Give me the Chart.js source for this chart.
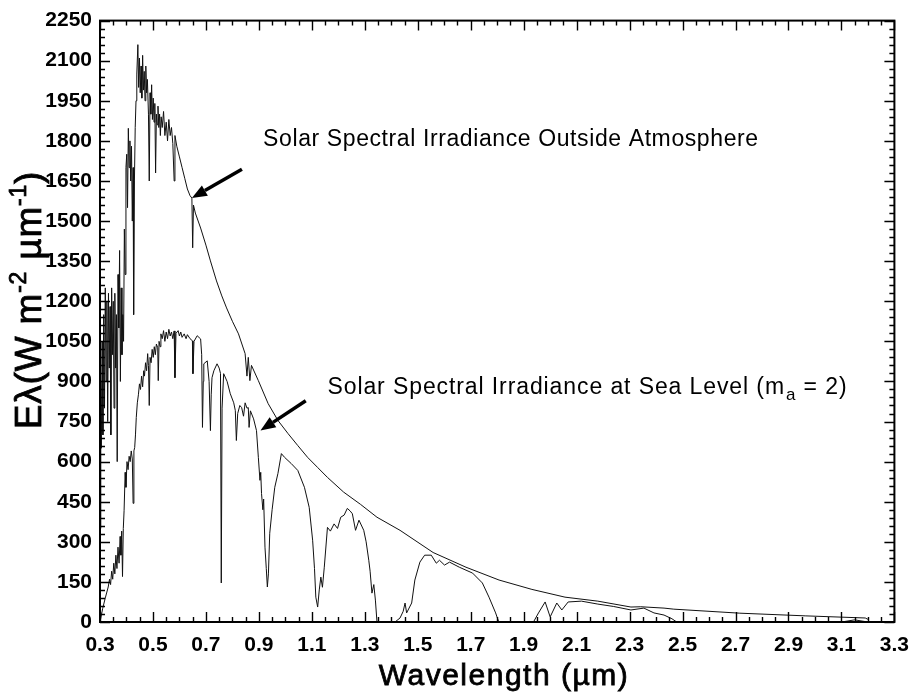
<!DOCTYPE html>
<html>
<head>
<meta charset="utf-8">
<script src="https://cdn.jsdelivr.net/npm/chart.js@4.4.0/dist/chart.umd.min.js"></script>
<style>
  html, body { margin: 0; padding: 0; background: #fff; }
  #wrap { width: 920px; height: 696px; }
</style>
</head>
<body>
<div id="wrap"><canvas id="spectrum" width="920" height="696"></canvas></div>
<script>
// axis ticks
const xTicks = [0.3, 0.5, 0.7, 0.9, 1.1, 1.3, 1.5, 1.7, 1.9, 2.1, 2.3, 2.5, 2.7, 2.9, 3.1, 3.3];
const yTicks = [0, 150, 300, 450, 600, 750, 900, 1050, 1200, 1350, 1500, 1650, 1800, 1950, 2100, 2250];

// Solar spectral irradiance outside atmosphere (wavelength um, W m-2 um-1)
const outsideWl = [
  0.300, 0.303, 0.305, 0.308, 0.311, 0.314, 0.317, 0.320, 0.323, 0.326, 0.329, 0.332, 0.335, 0.338,
  0.341, 0.344, 0.347, 0.350, 0.353, 0.356, 0.359, 0.362, 0.365, 0.368, 0.371, 0.374, 0.377, 0.380,
  0.383, 0.386, 0.389, 0.392, 0.395, 0.398, 0.401, 0.404, 0.407, 0.410, 0.413, 0.416, 0.419, 0.422,
  0.425, 0.427, 0.430, 0.433, 0.436, 0.439, 0.443, 0.446, 0.449, 0.452, 0.455, 0.458, 0.461, 0.464,
  0.467, 0.470, 0.473, 0.476, 0.479, 0.483, 0.486, 0.489, 0.492, 0.495, 0.498, 0.501, 0.504, 0.507,
  0.510, 0.513, 0.516, 0.519, 0.522, 0.525, 0.528, 0.531, 0.535, 0.540, 0.545, 0.550, 0.555, 0.560,
  0.565, 0.570, 0.575, 0.580, 0.583, 0.590, 0.600, 0.610, 0.620, 0.630, 0.640, 0.647, 0.650, 0.653,
  0.660, 0.680, 0.700, 0.717, 0.740, 0.760, 0.778, 0.800, 0.823, 0.848, 0.855, 0.860, 0.866, 0.872,
  0.898, 0.935, 0.972, 1.010, 1.047, 1.084, 1.122, 1.159, 1.220, 1.284, 1.346, 1.433, 1.558, 1.682,
  1.807, 1.931, 2.056, 2.180, 2.305, 2.342, 2.430, 2.467, 2.716, 2.963, 3.190, 3.200
];
const outsideE = [
  350, 900, 650, 1050, 700, 1150, 800, 1250, 900, 1200, 750, 1230, 950, 1180,
  700, 1250, 1000, 1200, 800, 1230, 950, 1150, 600, 1300, 1100, 1390, 900, 1250,
  1000, 1150, 1050, 1470, 1300, 1700, 1750, 1550, 1847, 1700, 1800, 1650, 1780, 1500,
  1700, 1150, 1650, 1850, 1950, 2050, 2160, 2000, 2110, 1980, 2080, 1960, 2120, 1990,
  2060, 1950, 2080, 1980, 2030, 1900, 1650, 1980, 1900, 2010, 1880, 1960, 1870, 1940,
  1680, 1900, 1860, 1930, 1850, 1900, 1820, 1890, 1850, 1910, 1820, 1870, 1800, 1880,
  1820, 1850, 1790, 1650, 1820, 1780, 1740, 1700, 1660, 1620, 1595, 1586, 1400, 1560,
  1530, 1474, 1410, 1351, 1276, 1220, 1175, 1125, 1078, 1004, 920, 990, 903, 960,
  903, 817, 754, 705, 660, 616, 578, 541, 486, 440, 392, 343, 260, 205,
  157, 122, 93, 78, 56, 57, 52, 48, 33, 23, 15, 10
];

// Solar spectral irradiance at sea level (m_a = 2)
const seaWl = [
  0.300, 0.310, 0.320, 0.331, 0.336, 0.340, 0.344, 0.348, 0.352, 0.356, 0.360, 0.364, 0.368, 0.372,
  0.376, 0.379, 0.382, 0.385, 0.388, 0.391, 0.395, 0.398, 0.402, 0.406, 0.410, 0.414, 0.418, 0.422,
  0.425, 0.428, 0.431, 0.434, 0.437, 0.441, 0.445, 0.449, 0.453, 0.457, 0.461, 0.465, 0.468, 0.472,
  0.476, 0.480, 0.483, 0.486, 0.489, 0.493, 0.497, 0.501, 0.505, 0.509, 0.513, 0.518, 0.520, 0.523,
  0.527, 0.530, 0.535, 0.540, 0.545, 0.550, 0.555, 0.560, 0.565, 0.570, 0.575, 0.580, 0.583, 0.587,
  0.595, 0.600, 0.605, 0.610, 0.618, 0.625, 0.630, 0.640, 0.649, 0.651, 0.655, 0.667, 0.680, 0.684,
  0.687, 0.690, 0.692, 0.705, 0.712, 0.717, 0.720, 0.723, 0.730, 0.742, 0.750, 0.755, 0.758, 0.761,
  0.767, 0.780, 0.792, 0.805, 0.811, 0.815, 0.820, 0.828, 0.835, 0.842, 0.848, 0.855, 0.860, 0.863,
  0.868, 0.880, 0.891, 0.898, 0.904, 0.907, 0.910, 0.915, 0.918, 0.923, 0.928, 0.932, 0.936, 0.941,
  0.950, 0.960, 0.972, 0.985, 0.997, 1.022, 1.047, 1.072, 1.090, 1.103, 1.110, 1.115, 1.122, 1.128,
  1.134, 1.140, 1.147, 1.159, 1.170, 1.184, 1.197, 1.209, 1.222, 1.234, 1.245, 1.253, 1.265, 1.278,
  1.296, 1.305, 1.315, 1.320, 1.327, 1.334, 1.340, 1.346, 1.414, 1.433, 1.445, 1.452, 1.458, 1.477,
  1.489, 1.508, 1.526, 1.551, 1.570, 1.582, 1.601, 1.620, 1.657, 1.707, 1.744, 1.769, 1.794, 1.806,
  1.937, 1.956, 1.981, 2.000, 2.025, 2.044, 2.068, 2.118, 2.180, 2.240, 2.305, 2.354, 2.392, 2.430,
  2.460, 2.478, 3.100, 3.150, 3.200
];
const seaE = [
  0, 50, 90, 131, 160, 140, 190, 160, 220, 180, 250, 200, 280, 220,
  320, 250, 340, 170, 350, 418, 560, 504, 600, 570, 620, 600, 640, 610,
  444, 640, 653, 700, 765, 820, 850, 891, 870, 920, 880, 940, 920, 970,
  940, 1004, 960, 810, 990, 970, 1020, 990, 1030, 1000, 1040, 1026, 903, 1050,
  1030, 1078, 1060, 1090, 1050, 1085, 1060, 1095, 1070, 1085, 1060, 1089, 914, 1080,
  1090, 1070, 1085, 1065, 1078, 1060, 1075, 1060, 1052, 929, 1050, 1071, 1059, 1000,
  728, 900, 966, 977, 900, 716, 850, 914, 940, 966, 950, 930, 146, 800,
  929, 900, 854, 820, 791, 679, 780, 810, 802, 770, 820, 800, 802, 728,
  790, 760, 716, 616, 530, 560, 481, 420, 460, 280, 200, 131, 180, 332,
  420, 504, 556, 630, 616, 593, 567, 504, 429, 306, 200, 93, 56, 120,
  168, 130, 205, 354, 340, 367, 350, 392, 400, 425, 415, 405, 343, 381,
  343, 300, 231, 190, 108, 140, 82, 0, 0, 15, 40, 71, 34, 71,
  157, 224, 250, 250, 220, 231, 213, 224, 205, 183, 146, 93, 34, 0,
  0, 34, 75, 19, 71, 45, 75, 78, 67, 58, 45, 52, 34, 26,
  12, 0, 0, 8, 0
];

const outsideLabel = 'Solar Spectral Irradiance Outside Atmosphere';
const seaLabel = ['Solar Spectral Irradiance at Sea Level (m', 'a', ' = 2)'];
const xTitle = 'Wavelength (\u00b5m)';

const FONT = '"Liberation Sans", Arial, Helvetica, sans-serif';

function toPoints(xs, ys) {
    return xs.map((v, i) => ({ x: v, y: ys[i] }));
}

function drawArrow(ctx, x0, y0, x1, y1) {
    const ang = Math.atan2(y1 - y0, x1 - x0);
    const head = 15, half = 6;
    const bx = x1 - head * Math.cos(ang), by = y1 - head * Math.sin(ang);
    ctx.lineWidth = 3.5;
    ctx.beginPath();
    ctx.moveTo(x0, y0);
    ctx.lineTo(bx, by);
    ctx.stroke();
    ctx.beginPath();
    ctx.moveTo(x1, y1);
    ctx.lineTo(bx + half * Math.sin(ang), by - half * Math.cos(ang));
    ctx.lineTo(bx - half * Math.sin(ang), by + half * Math.cos(ang));
    ctx.closePath();
    ctx.fill();
}

// medium-weight text: fill plus a thin outline
function heavyText(ctx, str, x, y) {
    ctx.fillText(str, x, y);
    ctx.strokeText(str, x, y);
}

// frame, inside ticks, arrows, labels and axis titles
const framePlugin = {
    id: 'frame',
    afterDraw(chart) {
        const { ctx, chartArea: a, scales: { x, y } } = chart;
        ctx.save();
        ctx.strokeStyle = '#000';
        ctx.fillStyle = '#000';

        // minor / major ticks on all four sides
        ctx.lineWidth = 1.4;
        ctx.beginPath();
        for (let i = 0; i <= 60; i++) {
            const px = Math.round(x.getPixelForValue(0.3 + i * 0.05)) + 0.5;
            const len = i % 4 === 0 ? 10 : 5;
            ctx.moveTo(px, a.bottom); ctx.lineTo(px, a.bottom - len);
            ctx.moveTo(px, a.top); ctx.lineTo(px, a.top + len);
        }
        for (let v = 0; v <= 2250; v += 30) {
            const py = Math.round(y.getPixelForValue(v)) + 0.5;
            const len = v % 150 === 0 ? 10 : 5;
            ctx.moveTo(a.left, py); ctx.lineTo(a.left + len, py);
            ctx.moveTo(a.right, py); ctx.lineTo(a.right - len, py);
        }
        ctx.stroke();

        // plot box
        ctx.lineWidth = 2;
        ctx.strokeRect(a.left, a.top, a.right - a.left, a.bottom - a.top);

        // arrows
        drawArrow(ctx, x.getPixelForValue(0.836), y.getPixelForValue(1694),
                       x.getPixelForValue(0.647), y.getPixelForValue(1586));
        drawArrow(ctx, x.getPixelForValue(1.077), y.getPixelForValue(828),
                       x.getPixelForValue(0.906), y.getPixelForValue(716));

        // annotations
        ctx.textBaseline = 'alphabetic';
        ctx.textAlign = 'left';
        ctx.letterSpacing = '0.6px';
        ctx.font = '23px ' + FONT;
        ctx.fillText(outsideLabel, x.getPixelForValue(0.916), y.getPixelForValue(1780));

        ctx.letterSpacing = '0.9px';
        let tx = x.getPixelForValue(1.159);
        const ty = y.getPixelForValue(854);
        ctx.fillText(seaLabel[0], tx, ty);
        tx += ctx.measureText(seaLabel[0]).width;
        ctx.font = '17px ' + FONT;
        ctx.fillText(seaLabel[1], tx + 1, ty + 6);
        tx += ctx.measureText(seaLabel[1]).width + 1;
        ctx.font = '23px ' + FONT;
        ctx.fillText(seaLabel[2], tx, ty);

        // x title
        ctx.lineWidth = 0.8;
        ctx.letterSpacing = '1.5px';
        ctx.font = '30px ' + FONT;
        ctx.textAlign = 'center';
        heavyText(ctx, xTitle, 504, 685);

        // y title with superscripts, rotated
        const parts = [
            ['E\u03bb(W m', 37, 0],
            ['-2', 23, -15],
            [' \u00b5m', 37, 0],
            ['-1', 23, -15],
            [')', 37, 0]
        ];
        ctx.letterSpacing = '0.8px';
        let total = 0;
        parts.forEach(p => { ctx.font = p[1] + 'px ' + FONT; total += ctx.measureText(p[0]).width; });
        ctx.translate(41, 300);
        ctx.rotate(-Math.PI / 2);
        ctx.textAlign = 'left';
        let cx = -total / 2;
        parts.forEach(p => {
            ctx.font = p[1] + 'px ' + FONT;
            heavyText(ctx, p[0], cx, p[2]);
            cx += ctx.measureText(p[0]).width;
        });
        ctx.restore();
    }
};

const tickFont = { family: FONT, size: 21, weight: 'bold' };

new Chart(document.getElementById('spectrum').getContext('2d'), {
    type: 'line',
    data: {
        datasets: [
            {
                label: 'Outside Atmosphere',
                data: toPoints(outsideWl, outsideE),
                borderColor: '#111',
                borderWidth: 1,
                pointRadius: 0,
                tension: 0,
                fill: false
            },
            {
                label: 'Sea Level',
                data: toPoints(seaWl, seaE),
                borderColor: '#111',
                borderWidth: 1,
                pointRadius: 0,
                tension: 0,
                fill: false
            }
        ]
    },
    options: {
        responsive: false,
        animation: false,
        devicePixelRatio: 1,
        layout: { padding: { top: 19, right: 17, left: 0, bottom: 0 } },
        plugins: {
            legend: { display: false },
            tooltip: { enabled: false }
        },
        scales: {
            x: {
                type: 'linear',
                min: 0.3,
                max: 3.3,
                grid: { display: false, drawTicks: false },
                border: { display: false },
                afterBuildTicks: s => { s.ticks = xTicks.map(v => ({ value: v })); },
                afterFit: s => { s.height = 74; },
                ticks: {
                    autoSkip: false,
                    maxRotation: 0,
                    padding: 11,
                    color: '#000',
                    font: tickFont,
                    callback: v => Number(v).toFixed(1)
                }
            },
            y: {
                type: 'linear',
                min: 0,
                max: 2250,
                grid: { display: false, drawTicks: false },
                border: { display: false },
                afterBuildTicks: s => { s.ticks = yTicks.map(v => ({ value: v })); },
                afterFit: s => { s.width = 100; },
                ticks: {
                    autoSkip: false,
                    padding: 8,
                    color: '#000',
                    font: tickFont,
                    callback: v => String(v)
                }
            }
        }
    },
    plugins: [framePlugin]
});
</script>
</body>
</html>
